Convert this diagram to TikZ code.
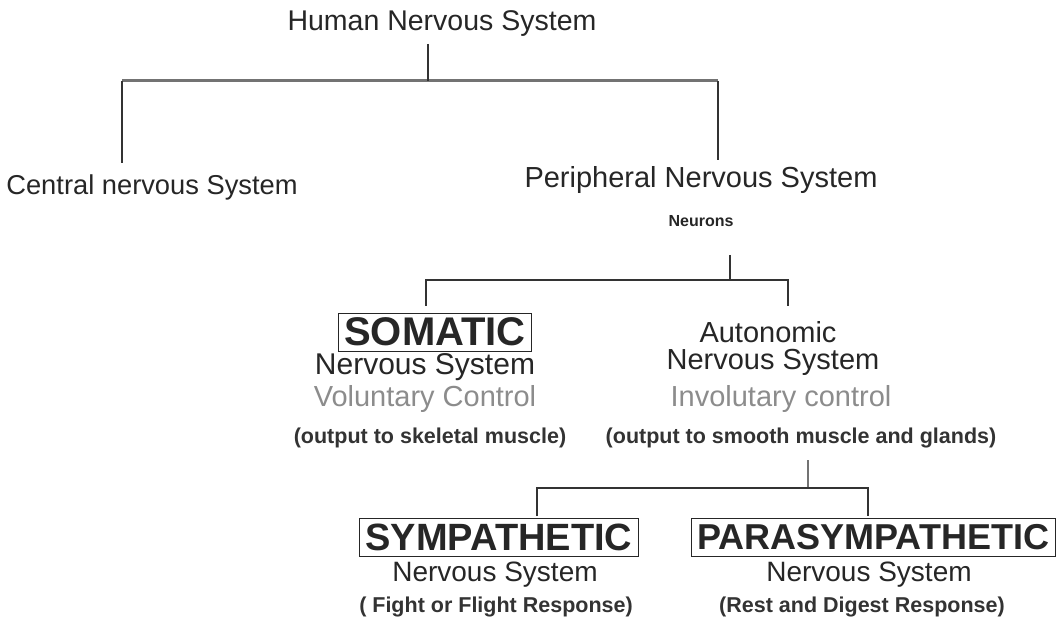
\documentclass[tikz,border=0pt]{standalone}
\usepackage{fontspec}
\setmainfont{Liberation Sans}
\usetikzlibrary{positioning}

\begin{document}
\begin{tikzpicture}[
        x=1pt, y=-1pt,
        every node/.style={inner sep=0pt, align=center, text=black!85},
        plain/.style={font=\fontsize{28}{32}\selectfont},
        faint/.style={font=\fontsize{29}{32}\selectfont, text=black!45},
        note/.style={font=\fontsize{21.5}{24}\selectfont\bfseries, text=black!80},
        caps/.style={draw=black!85, thick, font=\fontsize{38}{40}\selectfont\bfseries,
            text=black!85, inner xsep=6pt, minimum height=38pt},
        branch/.style={black!80, line width=1.4pt},
        bar/.style={black!55, line width=3pt}
    ]
    \useasboundingbox (0,0) rectangle (1063,620);

    % top level
    \node[plain, font=\fontsize{28.5}{32}\selectfont] (human) at (442,24) {Human Nervous System};
    \node[plain, font=\fontsize{27.3}{32}\selectfont] (cns) at (152,187) {Central nervous System};
    \node[plain, font=\fontsize{29}{32}\selectfont] (pns) at (701,180) {Peripheral Nervous System};
    \node[font=\fontsize{16}{18}\selectfont\bfseries] (neurons) at (701,221) {Neurons};

    % somatic / autonomic
    \node[caps, font=\fontsize{40}{42}\selectfont\bfseries] (somatic) at (435,332) {SOMATIC};
    \node[plain, font=\fontsize{30}{32}\selectfont] (somNS) at (425,367) {Nervous System};
    \node[faint] (somCtl) at (425,399) {Voluntary Control};
    \node[note] (somOut) at (430,438) {(output to skeletal muscle)};

    \node[plain, font=\fontsize{29}{32}\selectfont] (auto) at (768,332) {Autonomic};
    \node[plain, font=\fontsize{29}{32}\selectfont] (autoNS) at (773,362) {Nervous System};
    \node[faint] (autoCtl) at (781,399) {Involutary control};
    \node[note] (autoOut) at (801,438) {(output to smooth muscle and glands)};

    % sympathetic / parasympathetic
    \node[caps] (symp) at (499,537) {SYMPATHETIC};
    \node[plain] (sympNS) at (495,575) {Nervous System};
    \node[note] (sympResp) at (496,607) {( Fight or Flight Response)};

    \node[caps, font=\fontsize{36}{40}\selectfont\bfseries] (para) at (873,537) {PARASYMPATHETIC};
    \node[plain] (paraNS) at (869,575) {Nervous System};
    \node[note] (paraResp) at (862,607) {(Rest and Digest Response)};

    % branch points
    \coordinate (humanFoot) at (428,44);
    \coordinate (topBar) at (428,81);
    \coordinate (cnsTop) at (122,163);
    \coordinate (pnsTop) at (718,160);

    \coordinate (neuronsFoot) at (730,255);
    \coordinate (midBar) at (730,280);
    \coordinate (somTop) at (426,306);
    \coordinate (autoTop) at (788,306);

    \coordinate (autoFoot) at (808,460);
    \coordinate (lowBar) at (808,488);
    \coordinate (sympTop) at (537,516);
    \coordinate (paraTop) at (868,516);

    % connectors
    \draw[bar] (cnsTop |- topBar) -- (pnsTop |- topBar);
    \draw[branch] (humanFoot) -- (topBar);
    \draw[branch] (cnsTop) -- (cnsTop |- topBar);
    \draw[branch] (pnsTop) -- (pnsTop |- topBar);

    \draw[branch] (neuronsFoot) -- (midBar);
    \draw[branch] (somTop) |- (midBar) -| (autoTop);

    \draw[branch, black!55] (autoFoot) -- (lowBar);
    \draw[branch] (sympTop) |- (lowBar) -| (paraTop);
\end{tikzpicture}
\end{document}
